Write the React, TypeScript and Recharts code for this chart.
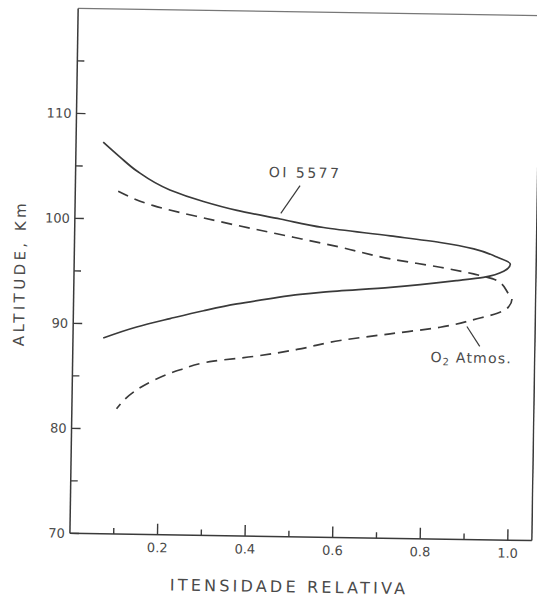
import React from 'react';
import { LineChart, Line, XAxis, YAxis, ReferenceLine, ReferenceDot } from 'recharts';

// OI 5577 green line profile (relative intensity vs altitude, km)
const oiIntensity = [0.062, 0.101, 0.140, 0.216, 0.293, 0.370, 0.469, 0.568, 0.721, 0.835, 0.912, 0.965, 0.996, 0.981, 0.935, 0.875, 0.723, 0.570, 0.517, 0.449, 0.373, 0.297, 0.221, 0.145, 0.069];
const oiAltitude = [107.3, 105.9, 104.6, 102.85, 101.8, 101.0, 100.25, 99.5, 98.8, 98.25, 97.7, 96.95, 96.3, 95.6, 95.0, 94.65, 93.9, 93.35, 93.1, 92.65, 92.1, 91.4, 90.6, 89.75, 88.65];

// O2 Atmospheric band profile
const o2Intensity = [0.098, 0.179, 0.293, 0.408, 0.500, 0.607, 0.722, 0.836, 0.912, 0.966, 0.993, 1.001, 0.993, 0.968, 0.922, 0.838, 0.724, 0.610, 0.512, 0.413, 0.321, 0.246, 0.185, 0.140, 0.102];
const o2Altitude = [102.64, 101.33, 100.24, 99.27, 98.53, 97.65, 96.62, 95.89, 95.31, 94.71, 93.46, 92.99, 92.2, 91.6, 91.04, 90.18, 89.48, 88.77, 87.85, 87.12, 86.61, 85.74, 84.68, 83.54, 81.94];

const xMajorTicks = [0.2, 0.4, 0.6, 0.8, 1.0];
const xMinorTicks = [0.1, 0.3, 0.5, 0.7, 0.9];
const xTickLabels = ['0.2', '0.4', '0.6', '0.8', '1.0'];
const yMajorTicks = [70, 80, 90, 100, 110];
const yMinorTicks = [75, 85, 95, 105, 115];
const yTickLabels = ['70', '80', '90', '100', '110'];

const seriesNames = ['OI 5577', 'O2 Atmos.'];
const xTitle = 'ITENSIDADE RELATIVA';
const yTitle = 'ALTITUDE, Km';

const X_MIN = 0;
const X_MAX = 1.055;
const Y_MIN = 70;
const Y_MAX = 120;

// annotation anchors (data coordinates)
const oiLabelPos = { x: 0.524, y: 104.7 };
const oiLeader = [{ x: 0.513, y: 103.46 }, { x: 0.470, y: 100.79 }];
const o2LabelPos = { x: 0.910, y: 87.32 };
const o2Leader = [{ x: 0.899, y: 90.29 }, { x: 0.929, y: 88.41 }];

const oiData = oiIntensity.map((x, i) => ({ x, y: oiAltitude[i] }));
const o2Data = o2Intensity.map((x, i) => ({ x, y: o2Altitude[i] }));
const allXTicks = [...xMinorTicks, ...xMajorTicks].sort((a, b) => a - b);
const allYTicks = [...yMinorTicks, ...yMajorTicks].sort((a, b) => a - b);

const INK = '#3a3a3a';
const TEXT = '#4a4a4a';
const FONT = '"DejaVu Sans", "Liberation Sans", sans-serif';

const findIdx = (arr: number[], v: number) => arr.findIndex((t) => Math.abs(t - v) < 1e-6);

const XTick = (props: any) => {
  const { x, y, payload } = props;
  const idx = findIdx(xMajorTicks, payload.value);
  const major = idx >= 0;
  return (
    <g>
      <line x1={x} y1={y} x2={x} y2={y - (major ? 11 : 6)} stroke={INK} strokeWidth={1.4} />
      {major && (
        <text x={x} y={y + 13} textAnchor="middle" dominantBaseline="central" fontSize={13} fontFamily={FONT} fill={TEXT}>
          {xTickLabels[idx]}
        </text>
      )}
    </g>
  );
};

const YTick = (props: any) => {
  const { x, y, payload } = props;
  const idx = findIdx(yMajorTicks, payload.value);
  const major = idx >= 0;
  return (
    <g>
      <line x1={x} y1={y} x2={x + (major ? 9 : 7)} y2={y} stroke={INK} strokeWidth={1.3} />
      {major && (
        <text x={x - 5} y={y} textAnchor="end" dominantBaseline="central" fontSize={13} fontFamily={FONT} fill={TEXT}>
          {yTickLabels[idx]}
        </text>
      )}
    </g>
  );
};

const XTitle = (props: any) => {
  const vb = props.viewBox;
  const cx = vb.x + vb.width / 2 - 11;
  return (
    <text x={cx} y={587} textAnchor="middle" dominantBaseline="central" fontSize={16} letterSpacing={3.2} fontFamily={FONT} fill={TEXT}>
      {xTitle}
    </text>
  );
};

const YTitle = (props: any) => {
  const vb = props.viewBox;
  const cx = vb.x + 20;
  const cy = vb.y + vb.height / 2 + 3;
  return (
    <text x={cx} y={cy} transform={`rotate(-90 ${cx} ${cy})`} textAnchor="middle" dominantBaseline="central" fontSize={15} letterSpacing={3.4} fontFamily={FONT} fill={TEXT}>
      {yTitle}
    </text>
  );
};

const OiLabel = (props: any) => {
  const vb = props.viewBox;
  const cx = vb.x + vb.width / 2;
  const cy = vb.y + vb.height / 2;
  return (
    <text x={cx} y={cy} textAnchor="middle" dominantBaseline="central" fontSize={14} letterSpacing={2.5} fontFamily={FONT} fill={TEXT}>
      {seriesNames[0]}
    </text>
  );
};

const O2Label = (props: any) => {
  const vb = props.viewBox;
  const cx = vb.x + vb.width / 2;
  const cy = vb.y + vb.height / 2;
  const name = seriesNames[1];
  return (
    <text x={cx} y={cy} textAnchor="middle" dominantBaseline="central" fontSize={14} letterSpacing={1.2} fontFamily={FONT} fill={TEXT}>
      <tspan>{name.slice(0, 1)}</tspan>
      <tspan fontSize={10} dy={4}>{name.slice(1, 2)}</tspan>
      <tspan dy={-4}>{name.slice(2)}</tspan>
    </text>
  );
};

export default function App() {
  return (
    <div
      style={{
        position: 'absolute',
        left: 0,
        top: 0,
        width: 537,
        height: 598,
        background: '#fff',
        transform: 'rotate(0.9deg)',
        transformOrigin: '305px 275px',
      }}
    >
      <LineChart width={537} height={598} margin={{ top: 12, right: 1, bottom: 6, left: 0 }}>
        <XAxis
          type="number"
          dataKey="x"
          domain={[X_MIN, X_MAX]}
          ticks={allXTicks}
          interval={0}
          tickSize={0}
          tickMargin={0}
          tickLine={false}
          tick={XTick}
          axisLine={{ stroke: INK, strokeWidth: 1.5 }}
          height={55}
          allowDataOverflow
          label={{ content: XTitle }}
        />
        <YAxis
          type="number"
          dataKey="y"
          domain={[Y_MIN, Y_MAX]}
          ticks={allYTicks}
          interval={0}
          tickSize={0}
          tickMargin={0}
          tickLine={false}
          tick={YTick}
          axisLine={{ stroke: INK, strokeWidth: 1.5 }}
          width={74}
          allowDataOverflow
          label={{ content: YTitle }}
        />
        <ReferenceLine y={Y_MAX} stroke="#777" strokeWidth={1.3} />
        <ReferenceLine x={X_MAX} stroke={INK} strokeWidth={1.5} />
        <Line
          data={oiData}
          dataKey="y"
          type="monotoneY"
          stroke={INK}
          strokeWidth={1.7}
          dot={false}
          activeDot={false}
          isAnimationActive={false}
          name={seriesNames[0]}
        />
        <Line
          data={o2Data}
          dataKey="y"
          type="monotoneY"
          stroke={INK}
          strokeWidth={1.7}
          strokeDasharray="11 7"
          dot={false}
          activeDot={false}
          isAnimationActive={false}
          name={seriesNames[1]}
        />
        <ReferenceLine segment={oiLeader} stroke={INK} strokeWidth={1.2} />
        <ReferenceLine segment={o2Leader} stroke={INK} strokeWidth={1.2} />
        <ReferenceDot x={oiLabelPos.x} y={oiLabelPos.y} r={1} fill="none" stroke="none" label={{ content: OiLabel }} />
        <ReferenceDot x={o2LabelPos.x} y={o2LabelPos.y} r={1} fill="none" stroke="none" label={{ content: O2Label }} />
      </LineChart>
    </div>
  );
}
